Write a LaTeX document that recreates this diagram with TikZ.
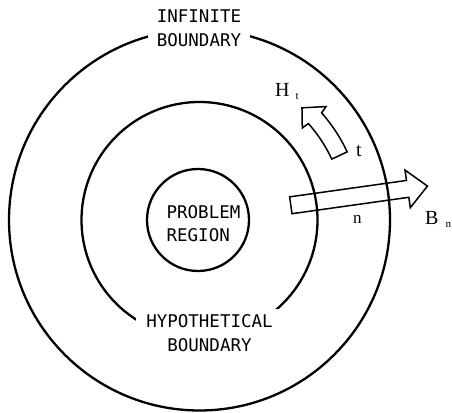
\documentclass[tikz,border=0pt]{standalone}
\usepackage{fontspec}
\setmainfont{Liberation Serif}
\setmonofont{DejaVu Sans Mono}
\usepackage{tikz}
\usetikzlibrary{calc}

\begin{document}
\begin{tikzpicture}[x=1pt,y=1pt,every node/.style={inner sep=0pt}]
\tikzset{bound/.style={line width=2.3pt},hollow/.style={line width=1.5pt,line join=miter},
  caps/.style={font=\ttfamily\fontsize{17.5}{23.5}\selectfont,align=center},
  sym/.style={font=\fontsize{20}{20}\selectfont,anchor=base west}}
\useasboundingbox (0,0) rectangle (452,412);
\coordinate (O) at (199.5,192);
\draw[bound] (O) circle[radius=190.5]; \draw[bound] (O) circle[radius=118];
\node[draw,bound,circle,minimum size=102pt] (problem) at (198,192) {};
\node[caps,align=left] (problemlbl) at (203.5,188.5) {PROBLEM\\REGION};
\node[caps,fill=white,inner xsep=9pt,inner ysep=3pt] (infinite) at (199,383.5) {INFINITE\\BOUNDARY};
\node[caps,fill=white,inner xsep=10pt,inner ysep=6pt] (hypo) at (209.5,79) {HYPOTHETICAL\\BOUNDARY};
\begin{scope}[shift={(290.8,206.7)},rotate=8]
\draw[hollow] (0,-8.5) -- (118,-8.5) -- (118,-19) -- (138,0) -- (118,19) -- (118,8.5) -- (0,8.5) -- cycle;
\end{scope}
\begin{scope}[shift={(199,191)}]
\draw[hollow] (25:146.5) arc[start angle=25,end angle=41.7,radius=146.5] -- (42:139) -- (47.7:153) -- (42:171)
  -- (41.4:163.5) arc[start angle=41.4,end angle=25,radius=163.5] -- cycle;
\end{scope}
\node[sym] (ht) at (275,315) {H\hspace{6pt}\raisebox{-3pt}{\fontsize{11}{11}\selectfont t}};
\node[sym] (tlbl) at (356,255) {t};
\node[sym,font=\fontsize{17}{17}\selectfont] (nlbl) at (353,188) {n};
\node[sym] (bn) at (425,187) {B\hspace{7pt}\raisebox{-3pt}{\fontsize{11}{11}\selectfont n}};
\end{tikzpicture}
\end{document}
